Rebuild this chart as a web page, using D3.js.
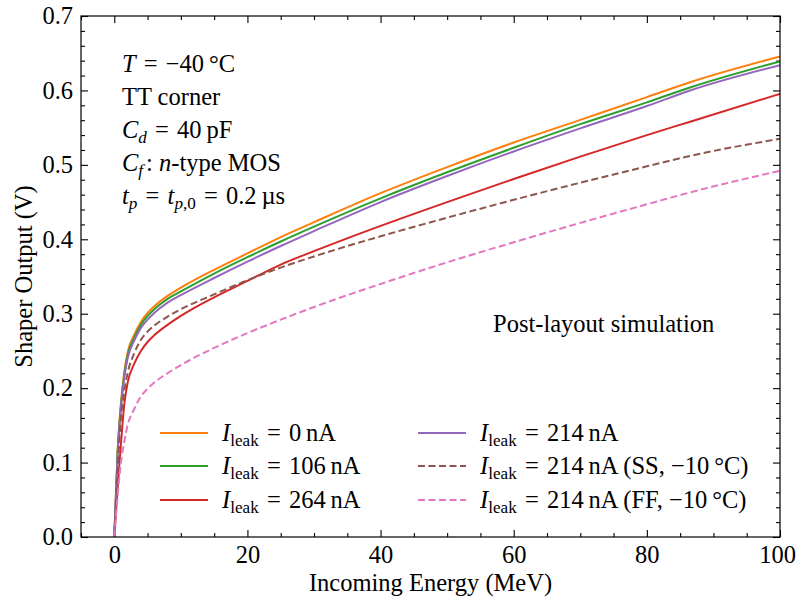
<!DOCTYPE html>
<html>
<head>
<meta charset="utf-8">
<script src="https://cdn.jsdelivr.net/npm/d3@7"></script>
<style>
  body { margin: 0; background: #fff; }
  text { font-family: "Liberation Serif", "DejaVu Serif", serif; fill: #000; }
</style>
</head>
<body>
<div id="chart"></div>
<script>
var energy = [0, 0.5, 1, 1.5, 2, 3, 4, 5, 6, 8, 10, 15, 20, 25, 30, 40, 50, 60, 70, 80, 86.5, 100];

// shaper output (V) for each case
var leak0 = [0, 0.115, 0.180, 0.222, 0.248, 0.272, 0.289, 0.301, 0.310, 0.324, 0.335, 0.359, 0.381, 0.403, 0.423, 0.462, 0.497, 0.530, 0.5605, 0.591, 0.611, 0.6456];
var leak106 = [0, 0.113, 0.177, 0.218, 0.244, 0.268, 0.285, 0.297, 0.306, 0.320, 0.330, 0.354, 0.376, 0.397, 0.417, 0.455, 0.490, 0.523, 0.5547, 0.584, 0.604, 0.639];
var leak264 = [0, 0.065, 0.125, 0.178, 0.207, 0.233, 0.250, 0.262, 0.271, 0.285, 0.297, 0.322, 0.344, 0.366, 0.384, 0.418, 0.450, 0.481, 0.511, 0.540, 0.558, 0.5954];
var leak214 = [0, 0.111, 0.174, 0.214, 0.240, 0.264, 0.281, 0.292, 0.301, 0.315, 0.325, 0.348, 0.370, 0.391, 0.411, 0.450, 0.485, 0.518, 0.549, 0.579, 0.600, 0.634];
var leak214SS = [0, 0.090, 0.160, 0.195, 0.220, 0.247, 0.265, 0.276, 0.284, 0.296, 0.306, 0.326, 0.345, 0.362, 0.377, 0.404, 0.429, 0.453, 0.476, 0.498, 0.512, 0.535];
var leak214FF = [0, 0.055, 0.100, 0.128, 0.150, 0.172, 0.189, 0.199, 0.2075, 0.220, 0.231, 0.254, 0.274, 0.292, 0.309, 0.340, 0.369, 0.396, 0.422, 0.447, 0.463, 0.492];

// legend labels: current value and optional corner note
var leakLabels = ["0", "106", "264", "214", "214", "214"];
var cornerNotes = ["", "", "", "", " (SS, \u221210\u2009\u00b0C)", " (FF, \u221210\u2009\u00b0C)"];

var xMajor = [0, 20, 40, 60, 80, 100];
var yMajor = [0.0, 0.1, 0.2, 0.3, 0.4, 0.5, 0.6, 0.7];

var series = [
  { values: leak0, color: "#ff7f0e", dash: null },
  { values: leak106, color: "#2ca02c", dash: null },
  { values: leak264, color: "#d62728", dash: null },
  { values: leak214, color: "#9467bd", dash: null },
  { values: leak214SS, color: "#8c564b", dash: "7,3.5" },
  { values: leak214FF, color: "#e377c2", dash: "7,3.5" }
];
series.forEach(function (s, i) {
  s.leak = leakLabels[i];
  s.note = cornerNotes[i];
});

var svgWidth = 796;
var svgHeight = 598;
var margin = { top: 16, right: 16, bottom: 61, left: 81 };
var width = svgWidth - margin.left - margin.right;
var height = svgHeight - margin.top - margin.bottom;
var fontSize = 24.5;
var eq = "\u2004=\u2004";

var svg = d3.select("#chart").append("svg")
  .attr("width", svgWidth)
  .attr("height", svgHeight);

var chartGroup = svg.append("g")
  .attr("transform", `translate(${margin.left}, ${margin.top})`);

var x = d3.scaleLinear().domain([-5, 100]).range([0, width]);
var y = d3.scaleLinear().domain([0, 0.7]).range([height, 0]);

var xMinor = d3.range(-5, 101, 5).filter(function (v) { return xMajor.indexOf(v) < 0; });
var yMinor = d3.range(0, 71, 2).map(function (v) { return v / 100; })
  .filter(function (v) { return Math.round(v * 100) % 10 !== 0; });

// axes, ticks pointing inward on all four sides
function styleAxis(g) {
  g.select(".domain").remove();
  g.selectAll(".tick line").attr("stroke", "#000").attr("stroke-width", 1.1);
  g.selectAll(".tick text").style("font-size", fontSize + "px")
    .style("font-family", '"Liberation Serif", serif');
}

var xAxisG = chartGroup.append("g")
  .attr("transform", `translate(0, ${height})`)
  .call(d3.axisBottom(x).tickValues(xMajor).tickSizeInner(-7).tickSizeOuter(0).tickPadding(9).tickFormat(d3.format("d")))
  .call(styleAxis);
// keep the last label inside the page
xAxisG.selectAll(".tick text").filter(function (d) { return d === 100; }).attr("dx", -3);

chartGroup.append("g")
  .attr("transform", `translate(0, ${height})`)
  .call(d3.axisBottom(x).tickValues(xMinor).tickSizeInner(-4).tickSizeOuter(0).tickFormat(""))
  .call(styleAxis);
chartGroup.append("g")
  .call(d3.axisTop(x).tickValues(xMajor).tickSizeInner(-7).tickSizeOuter(0).tickFormat(""))
  .call(styleAxis);
chartGroup.append("g")
  .call(d3.axisTop(x).tickValues(xMinor).tickSizeInner(-4).tickSizeOuter(0).tickFormat(""))
  .call(styleAxis);

chartGroup.append("g")
  .call(d3.axisLeft(y).tickValues(yMajor).tickSizeInner(-7).tickSizeOuter(0).tickPadding(8).tickFormat(d3.format(".1f")))
  .call(styleAxis);
chartGroup.append("g")
  .call(d3.axisLeft(y).tickValues(yMinor).tickSizeInner(-4).tickSizeOuter(0).tickFormat(""))
  .call(styleAxis);
chartGroup.append("g")
  .attr("transform", `translate(${width}, 0)`)
  .call(d3.axisRight(y).tickValues(yMajor).tickSizeInner(-7).tickSizeOuter(0).tickFormat(""))
  .call(styleAxis);
chartGroup.append("g")
  .attr("transform", `translate(${width}, 0)`)
  .call(d3.axisRight(y).tickValues(yMinor).tickSizeInner(-4).tickSizeOuter(0).tickFormat(""))
  .call(styleAxis);

// curves
chartGroup.append("clipPath").attr("id", "plotClip")
  .append("rect").attr("width", width).attr("height", height);

var line = d3.line()
  .x(function (d, i) { return x(energy[i]); })
  .y(function (d) { return y(d); })
  .curve(d3.curveMonotoneX);

chartGroup.append("g")
  .attr("clip-path", "url(#plotClip)")
  .selectAll("path")
  .data(series)
  .enter()
  .append("path")
  .attr("d", function (d) { return line(d.values); })
  .attr("fill", "none")
  .attr("stroke", function (d) { return d.color; })
  .attr("stroke-width", 2)
  .attr("stroke-dasharray", function (d) { return d.dash; });

// frame
chartGroup.append("rect")
  .attr("width", width)
  .attr("height", height)
  .attr("fill", "none")
  .attr("stroke", "#000")
  .attr("stroke-width", 1.2);

// text with italic parts and subscripts
// parts: [text, style, dx] ; style: "i" italic, "s" upright sub, "si" italic sub
function richText(g, px, py, parts) {
  var t = g.append("text")
    .attr("x", px)
    .attr("y", py)
    .style("font-size", fontSize + "px");
  var inSub = false;
  parts.forEach(function (p) {
    var st = p[1] || "";
    var isSub = st.charAt(0) === "s";
    var ts = t.append("tspan").text(p[0]);
    if (isSub && !inSub) ts.attr("dy", 5);
    if (!isSub && inSub) ts.attr("dy", -5);
    if (p[2]) ts.attr("dx", p[2]);
    inSub = isSub;
    if (isSub) ts.style("font-size", (fontSize * 0.7) + "px");
    if (st === "i" || st === "si") ts.style("font-style", "italic");
  });
  return t;
}

var note = chartGroup.append("g");
var noteX = 122 - margin.left;
richText(note, noteX, 72 - margin.top, [["T", "i"], [eq + "\u221240\u2009\u00b0C"]]);
richText(note, noteX, 105 - margin.top, [["TT corner"]]);
richText(note, noteX, 138 - margin.top, [["C", "i"], ["d", "si"], [eq + "40\u2009pF"]]);
richText(note, noteX, 171 - margin.top, [["C", "i"], ["f", "si"], [": ", "", 3], ["n", "i"], ["-type MOS"]]);
richText(note, noteX, 204 - margin.top, [["t", "i"], ["p", "si"], [eq], ["t", "i"], ["p", "si"], [",0", "s"], [eq + "0.2\u2009\u00b5s"]]);

richText(note, 493 - margin.left, 332 - margin.top, [["Post-layout simulation"]]);

// legend, two columns of three
var legend = chartGroup.append("g");
var colX = [160 - margin.left, 418 - margin.left];
var rowY = [433 - margin.top, 466 - margin.top, 500 - margin.top];
series.forEach(function (s, i) {
  var cx = colX[Math.floor(i / 3)];
  var cy = rowY[i % 3];
  legend.append("line")
    .attr("x1", cx).attr("x2", cx + 48)
    .attr("y1", cy).attr("y2", cy)
    .attr("stroke", s.color)
    .attr("stroke-width", 2)
    .attr("stroke-dasharray", s.dash);
  richText(legend, cx + 62, cy + 8, [["I", "i"], ["leak", "s"], [eq + s.leak + "\u2009nA" + s.note]]);
});

// axis titles
chartGroup.append("text")
  .attr("x", width / 2)
  .attr("y", 591 - margin.top)
  .attr("text-anchor", "middle")
  .style("font-size", fontSize + "px")
  .text("Incoming Energy (MeV)");

chartGroup.append("text")
  .attr("transform", `translate(${32 - margin.left}, ${height / 2}) rotate(-90)`)
  .attr("text-anchor", "middle")
  .style("font-size", fontSize + "px")
  .text("Shaper Output (V)");
</script>
</body>
</html>
